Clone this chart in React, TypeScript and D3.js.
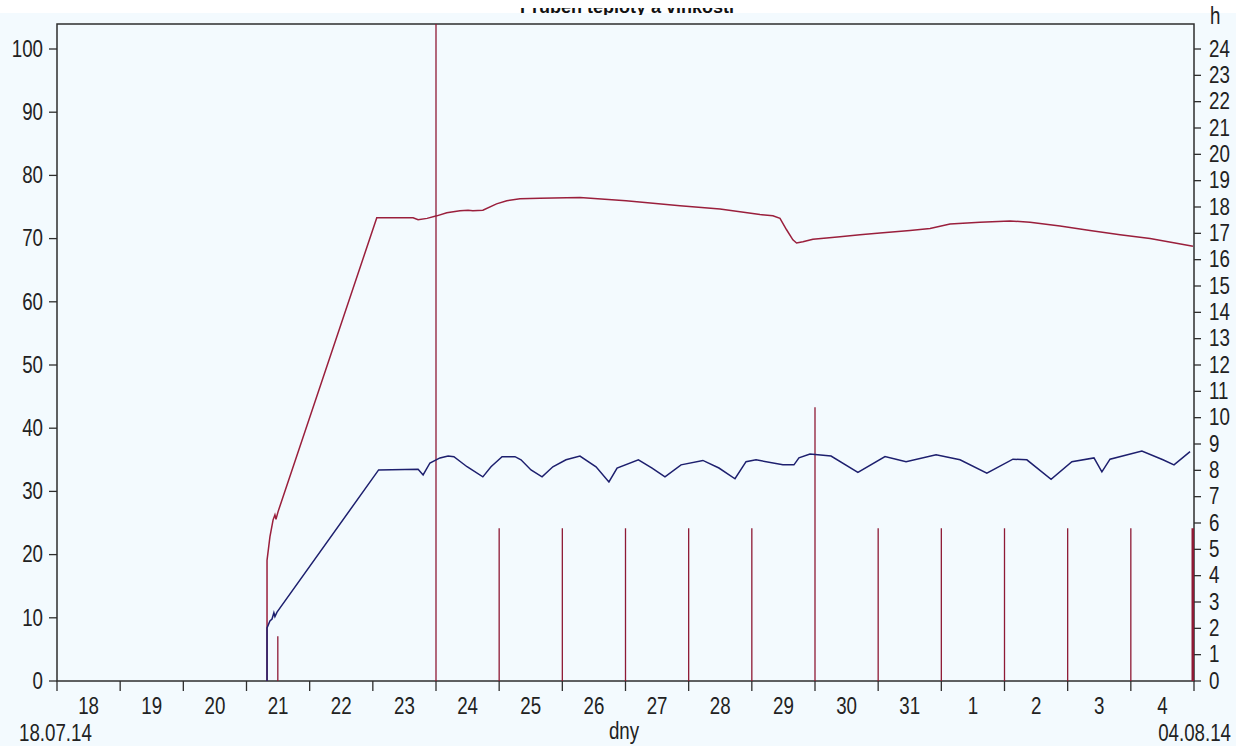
import React from "react";
import * as d3 from "d3";

// Start of the record: 18.07.2014 00:00. Times below are hours from that moment.
const START = new Date(2014, 6, 18);
const END = new Date(2014, 7, 5);

// Left axis (°/%) series
const redSeries: [number, number][] = [
  [79.8, 0], [79.8, 19.1], [80.9, 22.8], [82.1, 25.5], [82.8, 26.3], [83.2, 25.6], [84.0, 26.8],
  [121.5, 73.3], [135.3, 73.3], [137.2, 73.0], [140.6, 73.2], [144.3, 73.6], [148.1, 74.1],
  [153.1, 74.4], [156.2, 74.5], [158.0, 74.4], [161.8, 74.5], [167.0, 75.5], [170.9, 76.0],
  [175.9, 76.3], [183.5, 76.4], [198.7, 76.5], [216.2, 76.0], [236.7, 75.2], [251.9, 74.7],
  [267.1, 73.8], [272.0, 73.6], [274.7, 73.2], [277.2, 71.4], [279.6, 69.8], [281.0, 69.3],
  [283.4, 69.5], [287.2, 69.9], [292.4, 70.1], [297.5, 70.3], [305.1, 70.6], [312.7, 70.9],
  [324.1, 71.3], [331.7, 71.6], [339.3, 72.3], [350.7, 72.6], [362.1, 72.8], [369.7, 72.6],
  [381.1, 72.0], [392.5, 71.3], [403.9, 70.6], [415.3, 70.0], [424.8, 69.3], [431.6, 68.8],
];

const blueSeries: [number, number][] = [
  [79.8, 0], [79.8, 8.4], [80.9, 9.5], [81.7, 9.8], [82.4, 10.8], [82.8, 10.2], [83.6, 10.9],
  [122.2, 33.4], [137.2, 33.5], [139.1, 32.6], [141.7, 34.5], [145.5, 35.3], [148.6, 35.6],
  [150.8, 35.5], [155.8, 33.9], [161.8, 32.3], [164.9, 33.9], [169.1, 35.5], [174.0, 35.5],
  [176.3, 35.0], [180.1, 33.4], [184.3, 32.3], [188.4, 33.9], [193.4, 35.0], [198.7, 35.6],
  [204.8, 33.9], [209.7, 31.5], [212.8, 33.7], [220.9, 35.0], [226.1, 33.7], [231.0, 32.3],
  [237.1, 34.2], [245.4, 34.9], [251.5, 33.7], [257.6, 32.0], [261.8, 34.7], [265.6, 35.0],
  [275.8, 34.2], [280.0, 34.2], [281.9, 35.3], [286.1, 35.9], [294.1, 35.6], [304.3, 33.0],
  [314.6, 35.5], [322.6, 34.7], [334.0, 35.8], [343.1, 35.0], [353.3, 32.9], [363.2, 35.1],
  [368.5, 35.0], [377.7, 31.9], [385.6, 34.7], [394.0, 35.3], [397.0, 33.1], [400.1, 35.1],
  [412.2, 36.4], [420.2, 35.0], [424.4, 34.2], [430.5, 36.3],
];

// Right axis (h) daily bars
const barHours = [83.9, 144, 168, 192, 216, 240, 264, 288, 312, 336, 360, 384, 408, 432];
const barValues = [1.7, 25, 5.8, 5.8, 5.8, 5.8, 5.8, 10.4, 5.8, 5.8, 5.8, 5.8, 5.8, 5.8];

const leftTicks = [0, 10, 20, 30, 40, 50, 60, 70, 80, 90, 100];
const rightTicks = d3.range(0, 25);

const W = 1236;
const H = 746;
const M = { left: 57, right: 42, top: 24, bottom: 65 };
const plotRight = W - M.right;
const plotBottom = H - M.bottom;

const BG = "#f3fafe";
const AXIS = "#2e2e2e";
const RED = "#9a1f3c";
const BLUE = "#1d1f6e";
const BAR = "#8e1a35";
const FONT = "'Liberation Sans', Arial, sans-serif";

const hourToDate = (h: number) => new Date(START.getTime() + h * 3600 * 1000);

function Label({ x, y, text, anchor = "middle" }: { x: number; y: number; text: string; anchor?: string }) {
  return (
    <g transform={`translate(${x},${y}) scale(0.78,1)`}>
      <text
        textAnchor={anchor as any}
        dominantBaseline="central"
        fontFamily={FONT}
        fontSize={24}
        fill="#222"
      >
        {text}
      </text>
    </g>
  );
}

export default function App() {
  const x = d3.scaleTime().domain([START, END]).range([M.left, plotRight]);
  const yL = d3.scaleLinear().domain([0, 100]).range([plotBottom, 49]);
  const yR = d3.scaleLinear().domain([0, 24]).range([plotBottom, 49]);

  const line = d3
    .line<[number, number]>()
    .x((d) => x(hourToDate(d[0])))
    .y((d) => yL(d[1]));

  const days = d3.timeDay.range(START, END);
  const dayEdges = d3.timeDay.range(START, d3.timeDay.offset(END, 1));

  return (
    <svg
      width={W}
      height={H}
      style={{ position: "absolute", left: 0, top: 0, display: "block" }}
    >
      <defs>
        <clipPath id="plot-clip">
          <rect x={M.left} y={M.top} width={plotRight - M.left} height={plotBottom - M.top} />
        </clipPath>
        <clipPath id="title-clip">
          <rect x={0} y={8} width={W} height={7} />
        </clipPath>
      </defs>
      <rect x={0} y={0} width={W} height={H} fill="#ffffff" />
      <rect x={0} y={13} width={W} height={H - 13} fill={BG} />

      {/* title, only its lower edge shows above the frame */}
      <g clipPath="url(#title-clip)">
        <text
          x={627}
          y={13}
          textAnchor="middle"
          fontFamily={FONT}
          fontWeight="bold"
          fontSize={18}
          fill="#111"
        >
          Průběh teploty a vlhkosti
        </text>
      </g>

      {/* plot frame */}
      <rect
        x={M.left}
        y={M.top}
        width={plotRight - M.left}
        height={plotBottom - M.top}
        fill={BG}
        stroke={AXIS}
        strokeWidth={1.5}
      />

      <g clipPath="url(#plot-clip)">
        {barHours.map((h, i) => (
          <line
            key={i}
            x1={x(hourToDate(h))}
            x2={x(hourToDate(h))}
            y1={yR(0)}
            y2={yR(barValues[i])}
            stroke={BAR}
            strokeWidth={i === barHours.length - 1 ? 5 : 1.3}
          />
        ))}
        <path d={line(redSeries) || ""} fill="none" stroke={RED} strokeWidth={1.5} />
        <path d={line(blueSeries) || ""} fill="none" stroke={BLUE} strokeWidth={1.5} />
      </g>

      {/* left axis */}
      {leftTicks.map((t) => (
        <g key={t}>
          <line x1={M.left - 8} x2={M.left} y1={yL(t)} y2={yL(t)} stroke={AXIS} strokeWidth={1.3} />
          <Label x={43} y={yL(t)} text={String(t)} anchor="end" />
        </g>
      ))}

      {/* right axis */}
      {rightTicks.map((t) => (
        <g key={t}>
          <line x1={plotRight} x2={plotRight + 7} y1={yR(t)} y2={yR(t)} stroke={AXIS} strokeWidth={1.3} />
          <Label x={1209} y={yR(t)} text={String(t)} anchor="start" />
        </g>
      ))}
      <Label x={1210} y={16} text="h" anchor="start" />

      {/* bottom axis */}
      {dayEdges.map((d, i) => (
        <line
          key={i}
          x1={x(d)}
          x2={x(d)}
          y1={plotBottom}
          y2={plotBottom + 10}
          stroke={AXIS}
          strokeWidth={1.3}
        />
      ))}
      {days.map((d, i) => (
        <Label
          key={i}
          x={x(d3.timeHour.offset(d, 12))}
          y={706}
          text={d3.timeFormat("%-d")(d)}
        />
      ))}
      <Label x={19} y={733} text="18.07.14" anchor="start" />
      <Label x={624} y={731} text="dny" />
      <Label x={1231} y={733} text="04.08.14" anchor="end" />
    </svg>
  );
}
